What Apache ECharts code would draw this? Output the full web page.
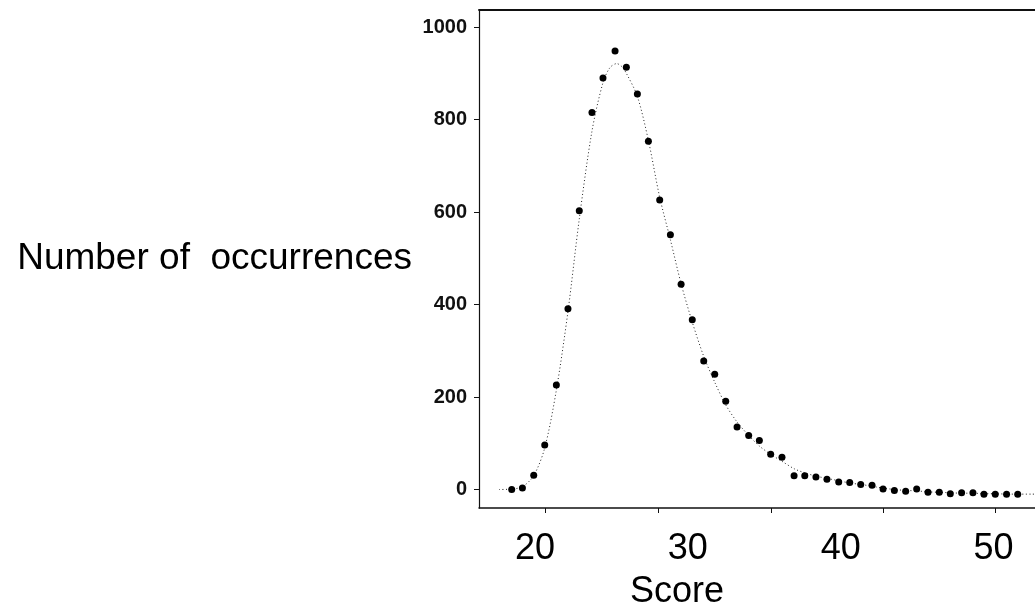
<!DOCTYPE html>
<html>
<head>
<meta charset="utf-8">
<script src="https://cdn.jsdelivr.net/npm/echarts@6/dist/echarts.min.js"></script>
<style>
  html, body { margin: 0; padding: 0; background: #fff; }
  #chart { width: 1035px; height: 613px; }
</style>
</head>
<body>
<div id="chart"></div>
<script>
// ── data ──
const scores = [18.48, 19.18, 19.92, 20.64, 21.40, 22.16, 22.90, 23.73, 24.45, 25.24,
  25.98, 26.70, 27.42, 28.16, 28.86, 29.56, 30.29, 31.04, 31.76, 32.48,
  33.22, 33.98, 34.68, 35.42, 36.16, 36.95, 37.65, 38.38, 39.10, 39.87,
  40.59, 41.31, 42.05, 42.77, 43.51, 44.25, 44.97, 45.71, 46.45, 47.17,
  47.91, 48.65, 49.37, 50.11, 50.85, 51.58];
const counts = [0, 3, 31, 96, 226, 391, 603, 815, 890, 948,
  913, 855, 753, 626, 551, 444, 367, 278, 249, 191,
  135, 117, 106, 76, 70, 30, 30, 27, 22, 16,
  15, 11, 9, 1, -2, -4, 1, -6, -6, -9,
  -7, -7, -10, -10, -10, -10];

// fitted curve (dotted)
const fitX = [17.65, 18.48, 19.18, 19.92, 20.64, 21.40, 22.16, 22.90, 23.73, 24.45,
  24.9, 25.35, 25.7, 25.98, 26.70, 27.42, 28.16, 28.86, 29.56, 30.29,
  31.04, 31.76, 32.48, 33.22, 33.98, 34.68, 35.42, 36.16, 36.95, 37.65,
  38.38, 39.10, 39.87, 40.59, 41.31, 42.05, 42.77, 43.51, 44.25, 44.97,
  45.71, 46.45, 47.17, 47.91, 48.65, 49.37, 50.11, 50.85, 51.58, 52.7];
const fitY = [0, 1, 6, 30, 90, 215, 385, 585, 775, 880,
  912, 921, 914, 900, 850, 755, 632, 540, 445, 362,
  288, 232, 183, 146, 117, 94, 76, 61, 45, 36,
  29, 24, 19, 14, 11, 7, 3, 0, -2, -3,
  -5, -6, -7, -8, -8, -9, -9, -10, -10, -10];

const xLabels = [20, 30, 40, 50];
const xTicks = [20.66, 28.05, 35.44, 42.77, 50.09];
const yLabels = [0, 200, 400, 600, 800, 1000];

const FONT = "Liberation Sans, Arial, sans-serif";
const zip = (xs, ys) => xs.map((x, i) => [x, ys[i]]);

const chart = echarts.init(document.getElementById("chart"), null, { renderer: "canvas" });
chart.setOption({
  backgroundColor: "#fff",
  animation: false,
  title: {
    text: "Score", left: 630, top: 574, padding: 0,
    textStyle: { fontSize: 36, fontWeight: "normal", fontFamily: FONT, color: "#000" },
  },
  grid: { left: 479, right: 0, top: 9.5, bottom: 105, containLabel: false },
  xAxis: [{
    type: "value", min: 16.34, max: 52.71,
    axisLine: { onZero: false, lineStyle: { color: "#111", width: 1.5 } },
    axisTick: { customValues: xTicks, length: 5, lineStyle: { color: "#111" } },
    axisLabel: { customValues: xLabels, fontSize: 36, margin: 23, color: "#000", fontFamily: FONT,
      formatter: (v) => String(v) },
    splitLine: { show: false },
  }, {
    // top frame line
    type: "value", position: "top", min: 16.34, max: 52.71,
    axisLine: { onZero: false, lineStyle: { color: "#111", width: 1.8 } },
    axisTick: { show: false }, axisLabel: { show: false }, splitLine: { show: false },
  }],
  yAxis: {
    type: "value", min: -40, max: 1038,
    name: "Number of  occurrences", nameLocation: "middle", nameRotate: 0, nameGap: 67,
    nameTextStyle: { fontSize: 37, fontFamily: FONT, color: "#000", align: "right",
      verticalAlign: "middle", padding: [8, 0, 0, 0] },
    axisLine: { show: true, onZero: false, lineStyle: { color: "#111", width: 1.2 } },
    axisTick: { show: true, customValues: yLabels, length: 5, lineStyle: { color: "#111" } },
    axisLabel: { customValues: yLabels, fontSize: 20, fontWeight: "bold", margin: 12,
      color: "#111", fontFamily: FONT, formatter: (v) => String(v) },
    splitLine: { show: false },
  },
  series: [{
    type: "line", data: zip(fitX, fitY), smooth: 0.3, symbol: "none",
    lineStyle: { color: "#222", width: 1, type: [1, 2.5] },
    z: 1,
  }, {
    type: "scatter", data: zip(scores, counts), symbol: "circle", symbolSize: 7,
    itemStyle: { color: "#000", opacity: 1 },
    z: 2,
  }],
});
</script>
</body>
</html>
